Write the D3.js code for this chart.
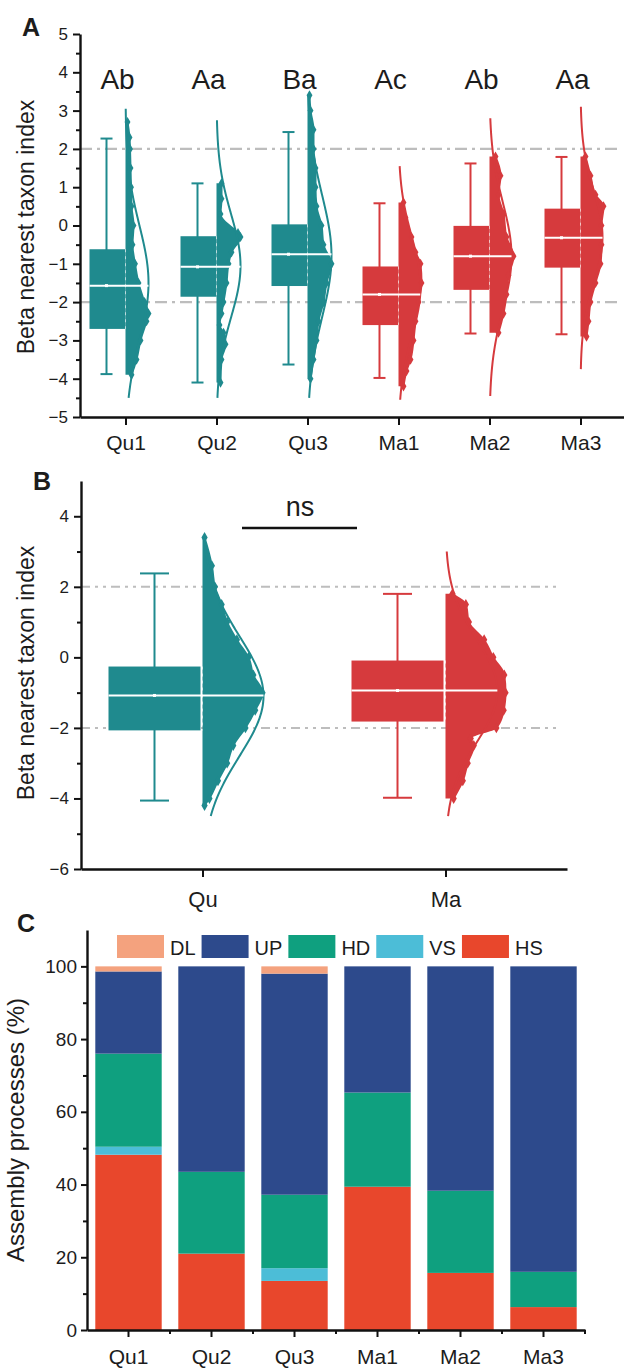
<!DOCTYPE html>
<html><head><meta charset="utf-8">
<script src="https://cdn.jsdelivr.net/npm/d3@7"></script>
<style>
body{margin:0;background:#fff}
text{font-family:"Liberation Sans",Arial,sans-serif;fill:#1c1c1c}
</style></head><body>
<script>
// ---------------- DATA ----------------
// Panel A: beta nearest taxon index by site
const groupsA = ["Qu1","Qu2","Qu3","Ma1","Ma2","Ma3"];
const letterA = ["Ab","Aa","Ba","Ac","Ab","Aa"];
const minA = [-3.88,-4.10,-3.63,-3.98,-2.82,-2.84];
const q1A  = [-2.70,-1.86,-1.58,-2.60,-1.68,-1.10];
const medA = [-1.57,-1.08,-0.75,-1.80,-0.80,-0.32];
const q3A  = [-0.62,-0.28, 0.03,-1.07,-0.01, 0.44];
const maxA = [ 2.27, 1.10, 2.44, 0.58, 1.62, 1.79];
// fitted normal curve (mean, sd, relative peak, drawn extent)
const fitMeanA = [-1.50,-1.05,-0.80,-1.60,-0.80,-0.30];
const fitSdA   = [1.50,1.35,1.60,1.30,1.40,1.20];
const fitPeakA = [0.92,0.96,0.96,0.88,0.88,0.88];
const fitTopA  = [3.05,2.75,3.40,1.55,2.80,3.10];
const fitBotA  = [-4.50,-4.50,-4.50,-4.55,-4.45,-3.75];
// point cloud profile: [value, relative density]
const cloudA = [
  [[2.7,0.12],[2.3,0.2],[2.0,0.22],[1.5,0.24],[1.0,0.26],[0.5,0.28],[0,0.36],[-0.5,0.32],[-1,0.42],[-1.5,0.56],[-2,0.8],[-2.3,0.96],[-2.5,0.88],[-3,0.64],[-3.5,0.48],[-3.9,0.28]],
  [[1.1,0.24],[0.7,0.24],[0.3,0.2],[-0.2,0.9],[-0.3,1.0],[-0.7,0.64],[-1.0,0.52],[-1.5,0.44],[-2,0.32],[-2.3,0.24],[-2.6,0.16],[-2.8,0.32],[-3.1,0.4],[-3.5,0.24],[-4.1,0.2]],
  [[3.4,0.12],[3.0,0.16],[2.5,0.28],[2.0,0.28],[1.5,0.36],[1.0,0.36],[0.5,0.4],[0,0.6],[-0.5,0.68],[-1.0,1.0],[-1.5,0.8],[-2,0.68],[-2.5,0.48],[-3,0.4],[-3.5,0.28],[-4,0.16]],
  [[0.6,0.24],[0.2,0.32],[-0.3,0.56],[-0.7,0.72],[-1.0,0.92],[-1.5,0.96],[-2.0,0.84],[-2.5,0.72],[-3,0.64],[-3.5,0.52],[-3.8,0.36],[-4.2,0.24]],
  [[1.8,0.28],[1.3,0.48],[0.8,0.4],[0.3,0.6],[-0.3,0.72],[-0.8,1.0],[-1.3,0.8],[-1.8,0.72],[-2.3,0.6],[-2.8,0.4]],
  [[1.8,0.24],[1.3,0.44],[0.8,0.64],[0.5,0.96],[0,0.88],[-0.5,0.88],[-1.0,0.84],[-1.5,0.64],[-2,0.44],[-2.5,0.36],[-2.9,0.28]]
];
const ticksA = [-5,-4,-3,-2,-1,0,1,2,3,4,5];

// Panel B: pooled by region
const groupsB = ["Qu","Ma"];
const minB = [-4.06,-3.98];
const q1B  = [-2.07,-1.82];
const medB = [-1.08,-0.94];
const q3B  = [-0.26,-0.09];
const maxB = [ 2.38, 1.80];
const fitMeanB = [-1.10,-0.95];
const fitSdB   = [1.70,1.45];
const fitPeakB = [1.0,0.85];
const fitTopB  = [3.40,3.00];
const fitBotB  = [-4.50,-4.50];
const cloudB = [
  [[3.4,0.05],[2.6,0.17],[2.0,0.22],[1.5,0.33],[1.0,0.42],[0.5,0.58],[0,0.77],[-0.5,0.85],[-1.0,1.0],[-1.5,0.88],[-2.0,0.72],[-2.5,0.52],[-3.0,0.42],[-3.5,0.27],[-4.0,0.13],[-4.2,0.05]],
  [[1.8,0.13],[1.5,0.35],[1.0,0.4],[0.5,0.65],[0,0.8],[-0.5,0.98],[-1.0,1.0],[-1.5,0.97],[-2.0,0.85],[-2.3,0.43],[-2.5,0.48],[-3.0,0.38],[-3.5,0.3],[-4.0,0.15]]
];
const ticksB = [-6,-4,-2,0,2,4];
const sigLabel = "ns";

// Panel C: assembly processes (%)
const groupsC = ["Qu1","Qu2","Qu3","Ma1","Ma2","Ma3"];
const HS = [48.2,21.0,13.5,39.4,15.7,6.3];
const VS = [2.2,0,3.5,0,0,0];
const HD = [25.6,22.5,20.2,25.9,22.6,9.7];
const UP = [22.6,56.5,60.8,34.7,61.7,84.0];
const DL = [1.4,0,2.0,0,0,0];
const legendKeys = ["DL","UP","HD","VS","HS"];
const stackKeys = ["HS","VS","HD","UP","DL"];
const ticksC = [0,20,40,60,80,100];

// ---------------- STYLE ----------------
const siteColor = {Qu:"#1f8a8e", Ma:"#d63a3d"};
const procColor = {DL:"#f4a27e", UP:"#2d4a8c", HD:"#0fa07f", VS:"#4cbdd7", HS:"#e8472c"};
const colorOf = g => siteColor[g.slice(0,2)];

const svg = d3.select("body").append("svg").attr("width",624).attr("height",1370);

function styleAxis(g){
  g.selectAll(".domain").attr("stroke","#111").attr("stroke-width",2.4);
  g.selectAll(".tick line").attr("stroke","#111").attr("stroke-width",2);
  g.selectAll(".tick text").attr("fill","#222");
}
function minorAxis(sel, axisFn, scale, vals, size){
  sel.append("g").call(axisFn(scale).tickValues(vals).tickSize(size).tickFormat(""))
    .call(g=>{g.select(".domain").remove(); g.selectAll(".tick line").attr("stroke","#111").attr("stroke-width",2);});
}
const diamond = d3.symbol().type(d3.symbolDiamond);

function halfViolinPanel(opt){
  const {g, x, y, groups, mins, q1s, meds, q3s, maxs, fm, fs, fp, ft, fb, clouds, boxW, boxGap, whiskOff, capW, wScale, dSize} = opt;
  groups.forEach((grp,i)=>{
    const cx = x(grp), col = colorOf(grp);
    const peak = wScale(fp[i]);
    const gg = g.append("g");
    gg.append("line").attr("x1",cx-whiskOff).attr("x2",cx-whiskOff).attr("y1",y(maxs[i])).attr("y2",y(mins[i]))
      .attr("stroke",col).attr("stroke-width",2);
    [maxs[i],mins[i]].forEach(v=>gg.append("line").attr("x1",cx-whiskOff-capW/2).attr("x2",cx-whiskOff+capW/2)
      .attr("y1",y(v)).attr("y2",y(v)).attr("stroke",col).attr("stroke-width",2));
    gg.append("rect").attr("x",cx-boxGap-boxW).attr("width",boxW).attr("y",y(q3s[i])).attr("height",y(q1s[i])-y(q3s[i]))
      .attr("fill",col);
    const prof = clouds[i];
    gg.append("path").datum(prof)
      .attr("d", d3.area().y(d=>y(d[0])).x0(cx).x1(d=>cx+wScale(d[1])).curve(d3.curveMonotoneY))
      .attr("fill",col);
    gg.selectAll(".dm").data(prof).join("path")
      .attr("transform",d=>`translate(${cx+wScale(d[1])-1},${y(d[0])})`)
      .attr("d",diamond.size(dSize)()).attr("fill",col);
    const vs = d3.range(ft[i], fb[i]-0.001, -0.05).concat([fb[i]]);
    gg.append("path").datum(vs)
      .attr("d", d3.line().y(v=>y(v)).x(v=>cx+peak*Math.exp(-((v-fm[i])**2)/(2*fs[i]*fs[i]))).curve(d3.curveBasis))
      .attr("fill","none").attr("stroke",col).attr("stroke-width",2);
    gg.append("line").attr("x1",cx).attr("x2",cx).attr("y1",y(q3s[i])).attr("y2",y(q1s[i]))
      .attr("stroke","#fff").attr("stroke-width",1).attr("stroke-dasharray","3,4").attr("opacity",0.6);
    const medEnd = cx + Math.max(peak*Math.exp(-((meds[i]-fm[i])**2)/(2*fs[i]*fs[i])), wScale(d3.max(prof,d=>d[1]))*0.85);
    gg.append("line").attr("x1",cx-boxGap-boxW).attr("x2",medEnd).attr("y1",y(meds[i])).attr("y2",y(meds[i]))
      .attr("stroke","#fff").attr("stroke-width",2);
    gg.append("rect").attr("x",cx-whiskOff-1.5).attr("y",y(meds[i])-1.5).attr("width",3).attr("height",3).attr("fill","#fff");
  });
}

// ================= PANEL A =================
const gA = svg.append("g");
const yA = d3.scaleLinear().domain([-5,5]).range([417,34]);
const xA = d3.scalePoint().domain(groupsA).range([80,626]).padding(0.5);

[2,-2].forEach(v=>gA.append("line").attr("x1",80).attr("x2",622).attr("y1",yA(v)).attr("y2",yA(v))
  .attr("stroke","#bdbdbd").attr("stroke-width",2.2).attr("stroke-dasharray","12,5,3,5"));

halfViolinPanel({g:gA, x:xA, y:yA, groups:groupsA, mins:minA, q1s:q1A, meds:medA, q3s:q3A, maxs:maxA,
  fm:fitMeanA, fs:fitSdA, fp:fitPeakA, ft:fitTopA, fb:fitBotA, clouds:cloudA, boxW:36, boxGap:0, whiskOff:19, capW:12,
  wScale:d3.scaleLinear().domain([0,1]).range([0,25]), dSize:30});

gA.append("g").attr("transform","translate(80,0)")
  .call(d3.axisLeft(yA).tickValues(ticksA).tickSize(7).tickPadding(5).tickSizeOuter(0))
  .call(styleAxis).call(g=>g.selectAll(".tick text").attr("font-size",17));
minorAxis(gA.append("g").attr("transform","translate(80,0)"), d3.axisLeft, yA, d3.range(-4.5,5,1), 4);
gA.append("g").attr("transform","translate(0,417)")
  .call(d3.axisBottom(xA).tickSize(8).tickPadding(10).tickSizeOuter(0))
  .call(styleAxis).call(g=>g.selectAll(".tick text").attr("font-size",21));

gA.selectAll(".let").data(groupsA).join("text")
  .attr("x",d=>xA(d)-8).attr("y",89).attr("text-anchor","middle").attr("font-size",28)
  .text((d,i)=>letterA[i]);
gA.append("text").attr("transform","translate(34,227) rotate(-90)").attr("text-anchor","middle")
  .attr("font-size",23).text("Beta nearest taxon index");
gA.append("text").attr("x",22).attr("y",36).attr("font-family","Liberation Serif, Times New Roman, serif")
  .attr("font-weight","bold").attr("font-size",25).text("A");

// ================= PANEL B =================
const gB = svg.append("g");
const yB = d3.scaleLinear().domain([-6,5]).range([869,481]);
const xB = d3.scalePoint().domain(groupsB).range([81,567]).padding(0.5);

[2,-2].forEach(v=>gB.append("line").attr("x1",81).attr("x2",560).attr("y1",yB(v)).attr("y2",yB(v))
  .attr("stroke","#bdbdbd").attr("stroke-width",2).attr("stroke-dasharray","9,5,3,5,3,5"));

halfViolinPanel({g:gB, x:xB, y:yB, groups:groupsB, mins:minB, q1s:q1B, meds:medB, q3s:q3B, maxs:maxB,
  fm:fitMeanB, fs:fitSdB, fp:fitPeakB, ft:fitTopB, fb:fitBotB, clouds:cloudB, boxW:92, boxGap:2, whiskOff:48, capW:29,
  wScale:d3.scaleLinear().domain([0,1]).range([0,61]), dSize:34});

gB.append("g").attr("transform","translate(81,0)")
  .call(d3.axisLeft(yB).tickValues(ticksB).tickSize(7).tickPadding(5).tickSizeOuter(0))
  .call(styleAxis).call(g=>g.selectAll(".tick text").attr("font-size",17));
minorAxis(gB.append("g").attr("transform","translate(81,0)"), d3.axisLeft, yB, [-5,-3,-1,1,3], 4);
gB.append("g").attr("transform","translate(0,869)")
  .call(d3.axisBottom(xB).tickSize(8).tickPadding(14).tickSizeOuter(0))
  .call(styleAxis).call(g=>g.selectAll(".tick text").attr("font-size",22));

gB.append("line").attr("x1",242).attr("x2",357).attr("y1",528).attr("y2",528).attr("stroke","#111").attr("stroke-width",2.5);
gB.append("text").attr("x",300).attr("y",516).attr("text-anchor","middle").attr("font-size",27).text(sigLabel);
gB.append("text").attr("transform","translate(34,673) rotate(-90)").attr("text-anchor","middle")
  .attr("font-size",23).text("Beta nearest taxon index");
gB.append("text").attr("x",33).attr("y",490).attr("font-family","Liberation Serif, Times New Roman, serif")
  .attr("font-weight","bold").attr("font-size",25).text("B");

// ================= PANEL C =================
const gC = svg.append("g");
const yC = d3.scaleLinear().domain([0,110]).range([1330,930]);
const xC = d3.scaleBand().domain(groupsC).range([87,585]).paddingInner(0.2).paddingOuter(0.1);
const table = groupsC.map((g,i)=>({g, HS:HS[i], VS:VS[i], HD:HD[i], UP:UP[i], DL:DL[i]}));
const series = d3.stack().keys(stackKeys)(table);
gC.selectAll(".ser").data(series).join("g").attr("fill",d=>procColor[d.key])
  .selectAll("rect").data(d=>d).join("rect")
  .attr("x",d=>xC(d.data.g)).attr("width",xC.bandwidth())
  .attr("y",d=>yC(d[1])).attr("height",d=>yC(d[0])-yC(d[1]));

gC.append("g").attr("transform","translate(87,0)")
  .call(d3.axisLeft(yC).tickValues(ticksC).tickSize(6).tickPadding(4).tickSizeOuter(0))
  .call(styleAxis).call(g=>g.selectAll(".tick text").attr("font-size",19));
minorAxis(gC.append("g").attr("transform","translate(87,0)"), d3.axisLeft, yC, [10,30,50,70,90], 4);
gC.append("g").attr("transform","translate(0,1330)")
  .call(d3.axisBottom(xC).tickSize(7).tickPadding(12).tickSizeOuter(0))
  .call(styleAxis).call(g=>g.selectAll(".tick text").attr("font-size",21));
gC.selectAll(".bt").data(groupsC).join("line")
  .attr("x1",d=>xC(d)+xC.bandwidth()+(xC.step()-xC.bandwidth())/2).attr("x2",d=>xC(d)+xC.bandwidth()+(xC.step()-xC.bandwidth())/2)
  .attr("y1",1330).attr("y2",1334).attr("stroke","#111").attr("stroke-width",2);

let lx = 117;
legendKeys.forEach(k=>{
  gC.append("rect").attr("x",lx).attr("y",935).attr("width",47).attr("height",23).attr("fill",procColor[k]);
  const t = gC.append("text").attr("x",lx+53).attr("y",955).attr("font-size",20).text(k);
  lx += 53 + t.node().getComputedTextLength() + 6;
});
gC.append("text").attr("transform","translate(24,1130) rotate(-90)").attr("text-anchor","middle")
  .attr("font-size",24).text("Assembly processes (%)");
gC.append("text").attr("x",17).attr("y",932).attr("font-family","Liberation Serif, Times New Roman, serif")
  .attr("font-weight","bold").attr("font-size",25).text("C");
</script>
</body></html>
